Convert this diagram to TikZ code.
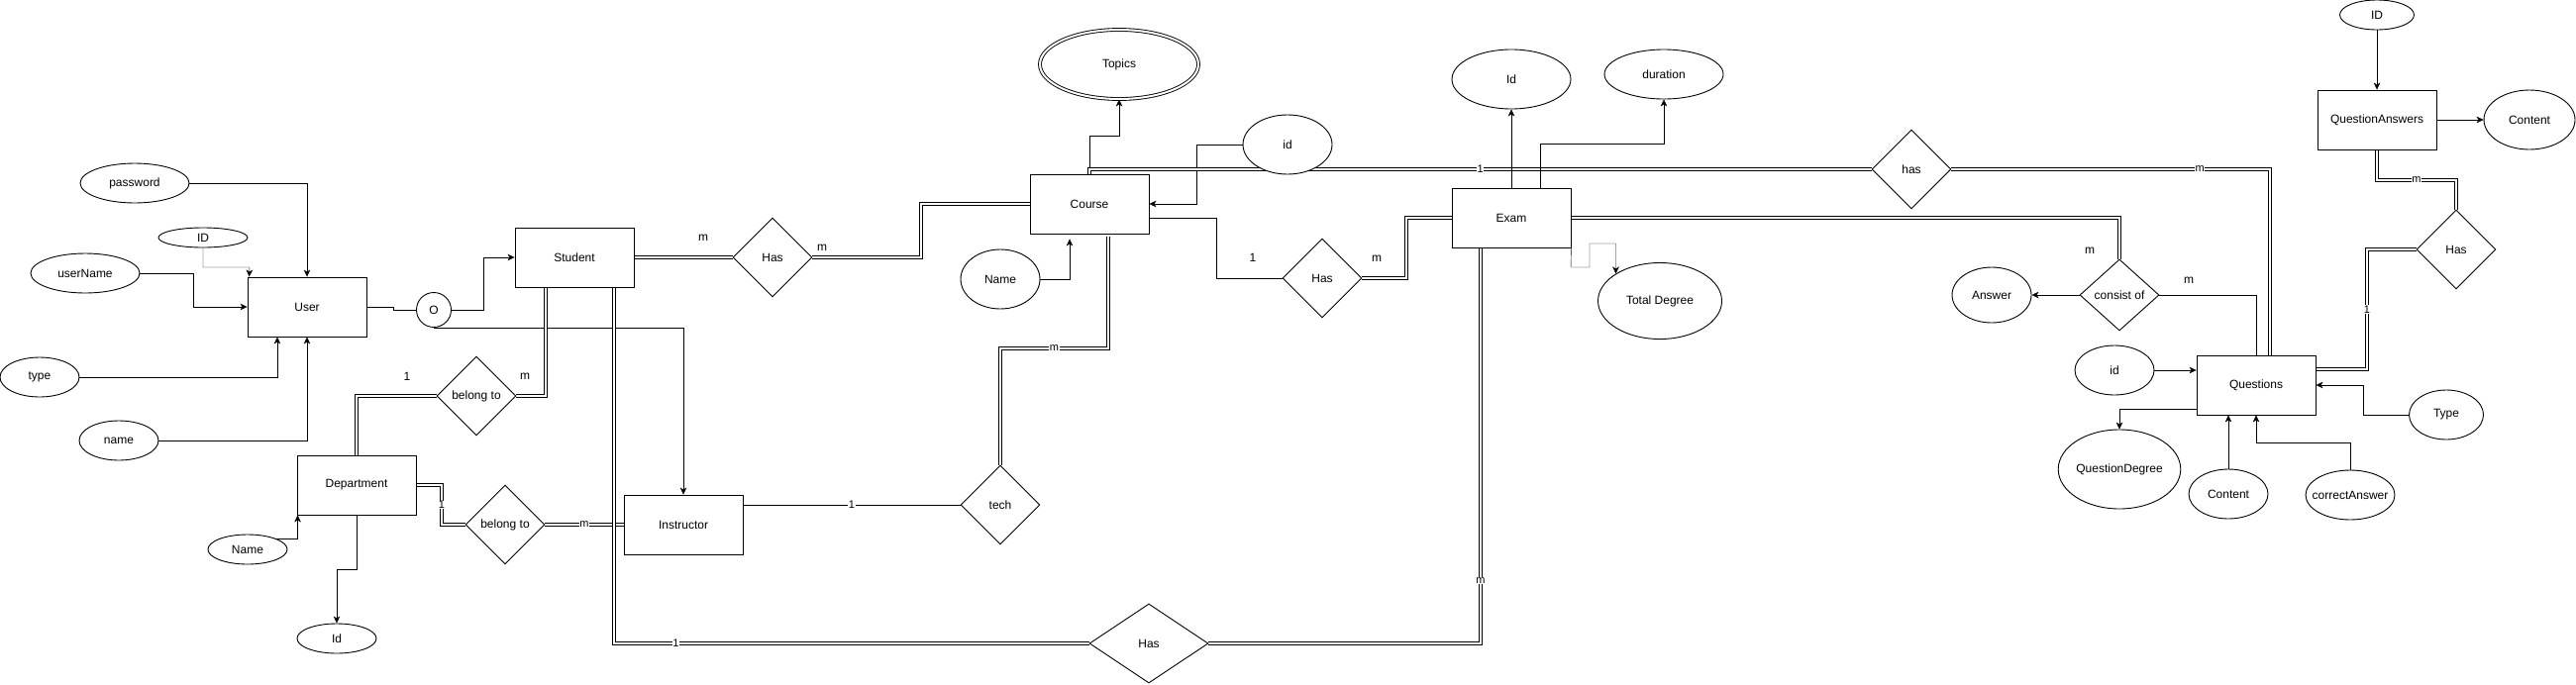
\documentclass[tikz,border=0pt]{standalone}
\usepackage{fontspec}
\setmainfont{Liberation Sans}
\usetikzlibrary{shapes.geometric,arrows.meta,backgrounds}

\begin{document}
\begin{tikzpicture}[x=1pt, y=-1pt, line width=0.9pt, >={Stealth[length=7pt,width=6.5pt,inset=2pt]},
  every node/.style={font=\fontsize{12}{14}\selectfont},
  entity/.style={draw, fill=white, minimum width=120pt, minimum height=60pt, inner sep=0pt},
  attrib/.style={draw, ellipse, fill=white, inner sep=0pt},
  rel/.style={draw, diamond, fill=white, minimum width=80pt, minimum height=80pt, inner sep=0pt},
  dbl/.style={double, double distance=2.5pt},
  elbl/.style={fill=white, inner sep=0.5pt, font=\fontsize{11}{12}\selectfont}]
\useasboundingbox (0,0) rectangle (2601,691);

\node[entity] (User) at (310,310) {User};
\node[entity] (Student) at (580,260) {Student};
\node[entity] (Department) at (360,490) {Department};
\node[entity] (Instructor) at (690,530) {Instructor};
\node[entity] (Course) at (1100,206) {Course};
\node[entity] (Exam) at (1526,220) {Exam};
\node[entity] (Questions) at (2278,389) {Questions};
\node[entity] (QAnswers) at (2400,121) {QuestionAnswers};

\node[attrib, minimum width=110pt, minimum height=40pt] (password) at (136,185) {password};
\node[attrib, minimum width=90pt, minimum height=20pt] (ID) at (205,240) {ID};
\node[attrib, minimum width=110pt, minimum height=40pt] (userName) at (86,276) {userName};
\node[attrib, minimum width=80pt, minimum height=40pt] (type) at (40,381) {type};
\node[attrib, minimum width=80pt, minimum height=40pt] (name) at (120,445) {name};
\node[draw, circle, fill=white, minimum size=35pt, inner sep=0pt] (O) at (438,313) {O};
\node[attrib, minimum width=80pt, minimum height=30pt] (dName) at (250,555) {Name};
\node[attrib, minimum width=80pt, minimum height=30pt] (dId) at (340,645) {Id};
\node[attrib, double, double distance=2pt, minimum width=160pt, minimum height=70pt] (Topics) at (1130,65) {Topics};
\node[attrib, minimum width=80pt, minimum height=60pt] (cName) at (1010,282) {Name};
\node[attrib, minimum width=90pt, minimum height=60pt] (cid) at (1300,146) {id};
\node[attrib, minimum width=120pt, minimum height=60pt] (eId) at (1526,80) {Id};
\node[attrib, minimum width=120pt, minimum height=50pt] (duration) at (1680,75) {duration};
\node[attrib, minimum width=125pt, minimum height=77pt] (TotalDeg) at (1676,304) {Total Degree};
\node[attrib, minimum width=80pt, minimum height=56pt] (Answer) at (2011,298) {Answer};
\node[attrib, minimum width=80pt, minimum height=50pt] (qid) at (2135,374) {id};
\node[attrib, minimum width=120pt, minimum height=80pt] (QDegree) at (2140,474) {QuestionDegree};
\node[attrib, minimum width=80pt, minimum height=50pt] (qContent) at (2250,499) {Content};
\node[attrib, minimum width=90pt, minimum height=50pt, inner xsep=-12pt] (cAnswer) at (2373,500) {correctAnswer};
\node[attrib, minimum width=75pt, minimum height=50pt] (qType) at (2470,419) {Type};
\node[attrib, minimum width=92pt, minimum height=60pt] (aContent) at (2554,121) {Content};
\node[attrib, minimum width=75pt, minimum height=30pt] (aID) at (2400,15) {ID};

\node[rel] (belong1) at (481,400) {belong to};
\node[rel] (belong2) at (510,530) {belong to};
\node[rel] (Has1) at (780,260) {Has};
\node[rel] (tech) at (1010,510) {tech};
\node[rel] (Has2) at (1335,281) {Has};
\node[rel, minimum width=120pt] (Has3) at (1160,650) {Has};
\node[rel] (has) at (1930,171) {has};
\node[rel, minimum height=72pt] (consist) at (2140,298) {consist of};
\node[rel] (Has4) at (2480,252) {Has};

\node (c1) at (411,380) {1};
\node (c2) at (530,380) {m};
\node (c3) at (710,240) {m};
\node (c4) at (830,250) {m};
\node (c5) at (1265,260) {1};
\node (c6) at (1390,261) {m};
\node (c7) at (2110,253) {m};
\node (c8) at (2210,283) {m};

\begin{scope}[on background layer]
\draw[->] (password) -| (User);
\draw[->] (ID.south) -- (205,270) -- (252,270) -- ([xshift=2pt]User.north west);
\draw[->] (userName.east) -- (195,276) |- (User.west);
\draw[->] (type) -| ([xshift=-30pt]User.south);
\draw[->] (name) -| (User);
\draw (User.east) -- (397,310) -- (397,313) -- (O.west);
\draw[->] (O.east) -- (488,313) |- (Student.west);
\draw[->] (O.south) -| (Instructor.north);
\draw[dbl] ([xshift=-29pt]Student.south) |- (belong1.east);
\draw[dbl] (belong1.west) -| (Department.north);
\draw[dbl] (Department.east) -- (446,490) -- node[elbl]{1} (446,530) -- (belong2.west);
\draw[dbl] (belong2) -- node[elbl]{m} (Instructor);
\draw[->] (Department.south) -- (360,575) -| (dId.north);
\draw[->] (dName.north east) -| ([xshift=1pt]Department.south west);
\draw[dbl] (Student) -- (Has1);
\draw[dbl] (Has1.east) -- (930,260) |- (Course.west);
\draw[dbl] ([xshift=40pt]Student.south) -- (620,650) -- node[elbl,pos=.13]{1} (Has3.west);
\draw[dbl] (Has3.east) -- (1495,650) -- node[elbl,pos=.16]{m} ([xshift=-31pt]Exam.south);
\draw ([yshift=20pt]Instructor.east) -- node[elbl]{1} (tech.west);
\draw[dbl] (tech.north) -- (1010,352) -- node[elbl]{m} (1119,352) -- ([xshift=19pt,yshift=-3pt]Course.south);
\draw[->] (Course.north) -- (1100,137) -| (Topics.south);
\draw[->] (cName.east) -| ([xshift=-20pt,yshift=-5pt]Course.south);
\draw[->] (cid.west) -- (1208,146) |- (Course.east);
\draw ([yshift=-14pt]Course.east) -- (1228,220) |- (Has2.west);
\draw[dbl] (Has2.east) -- (1420,281) |- (Exam.west);
\draw[dbl] (Course.north) -- (1100,171) -- node[elbl]{1} (has.west);
\draw[->] (Exam) -- (eId);
\draw[->] ([xshift=29pt]Exam.north) -- (1555,145) -| (duration.south);
\draw[->] (Exam.south east) -- (1586,270) -- (1605,270) -- (1605,246) -| (TotalDeg.north west);
\draw[dbl] (has.east) -- node[elbl,pos=.78]{m} (2292,171) -- ([xshift=14pt]Questions.north);
\draw[dbl] (Exam.east) -| (consist.north);
\draw[->] (consist) -- (Answer);
\draw (consist.east) -| (Questions.north);
\draw[->] (qid) -- (Questions.west |- qid);
\draw[->] ([yshift=-24pt]Questions.west) -| (QDegree.north);
\draw[->] (qContent.north) -- (qContent.north |- Questions.south);
\draw[->] (cAnswer.north) -- (2373,447) -| (Questions.south);
\draw[->] (qType.west) -- (2386,419) |- (Questions.east);
\draw[->] (aID) -- (QAnswers);
\draw[->] (QAnswers) -- (aContent);
\draw[dbl] (QAnswers.south) -- (2400,182) -- node[elbl]{m} (2480,182) -- (Has4.north);
\draw[dbl] (Has4.west) -- (2390,252) -- node[elbl]{1} (2390,373) -- ([yshift=16pt]Questions.east);
\end{scope}
\end{tikzpicture}
\end{document}
